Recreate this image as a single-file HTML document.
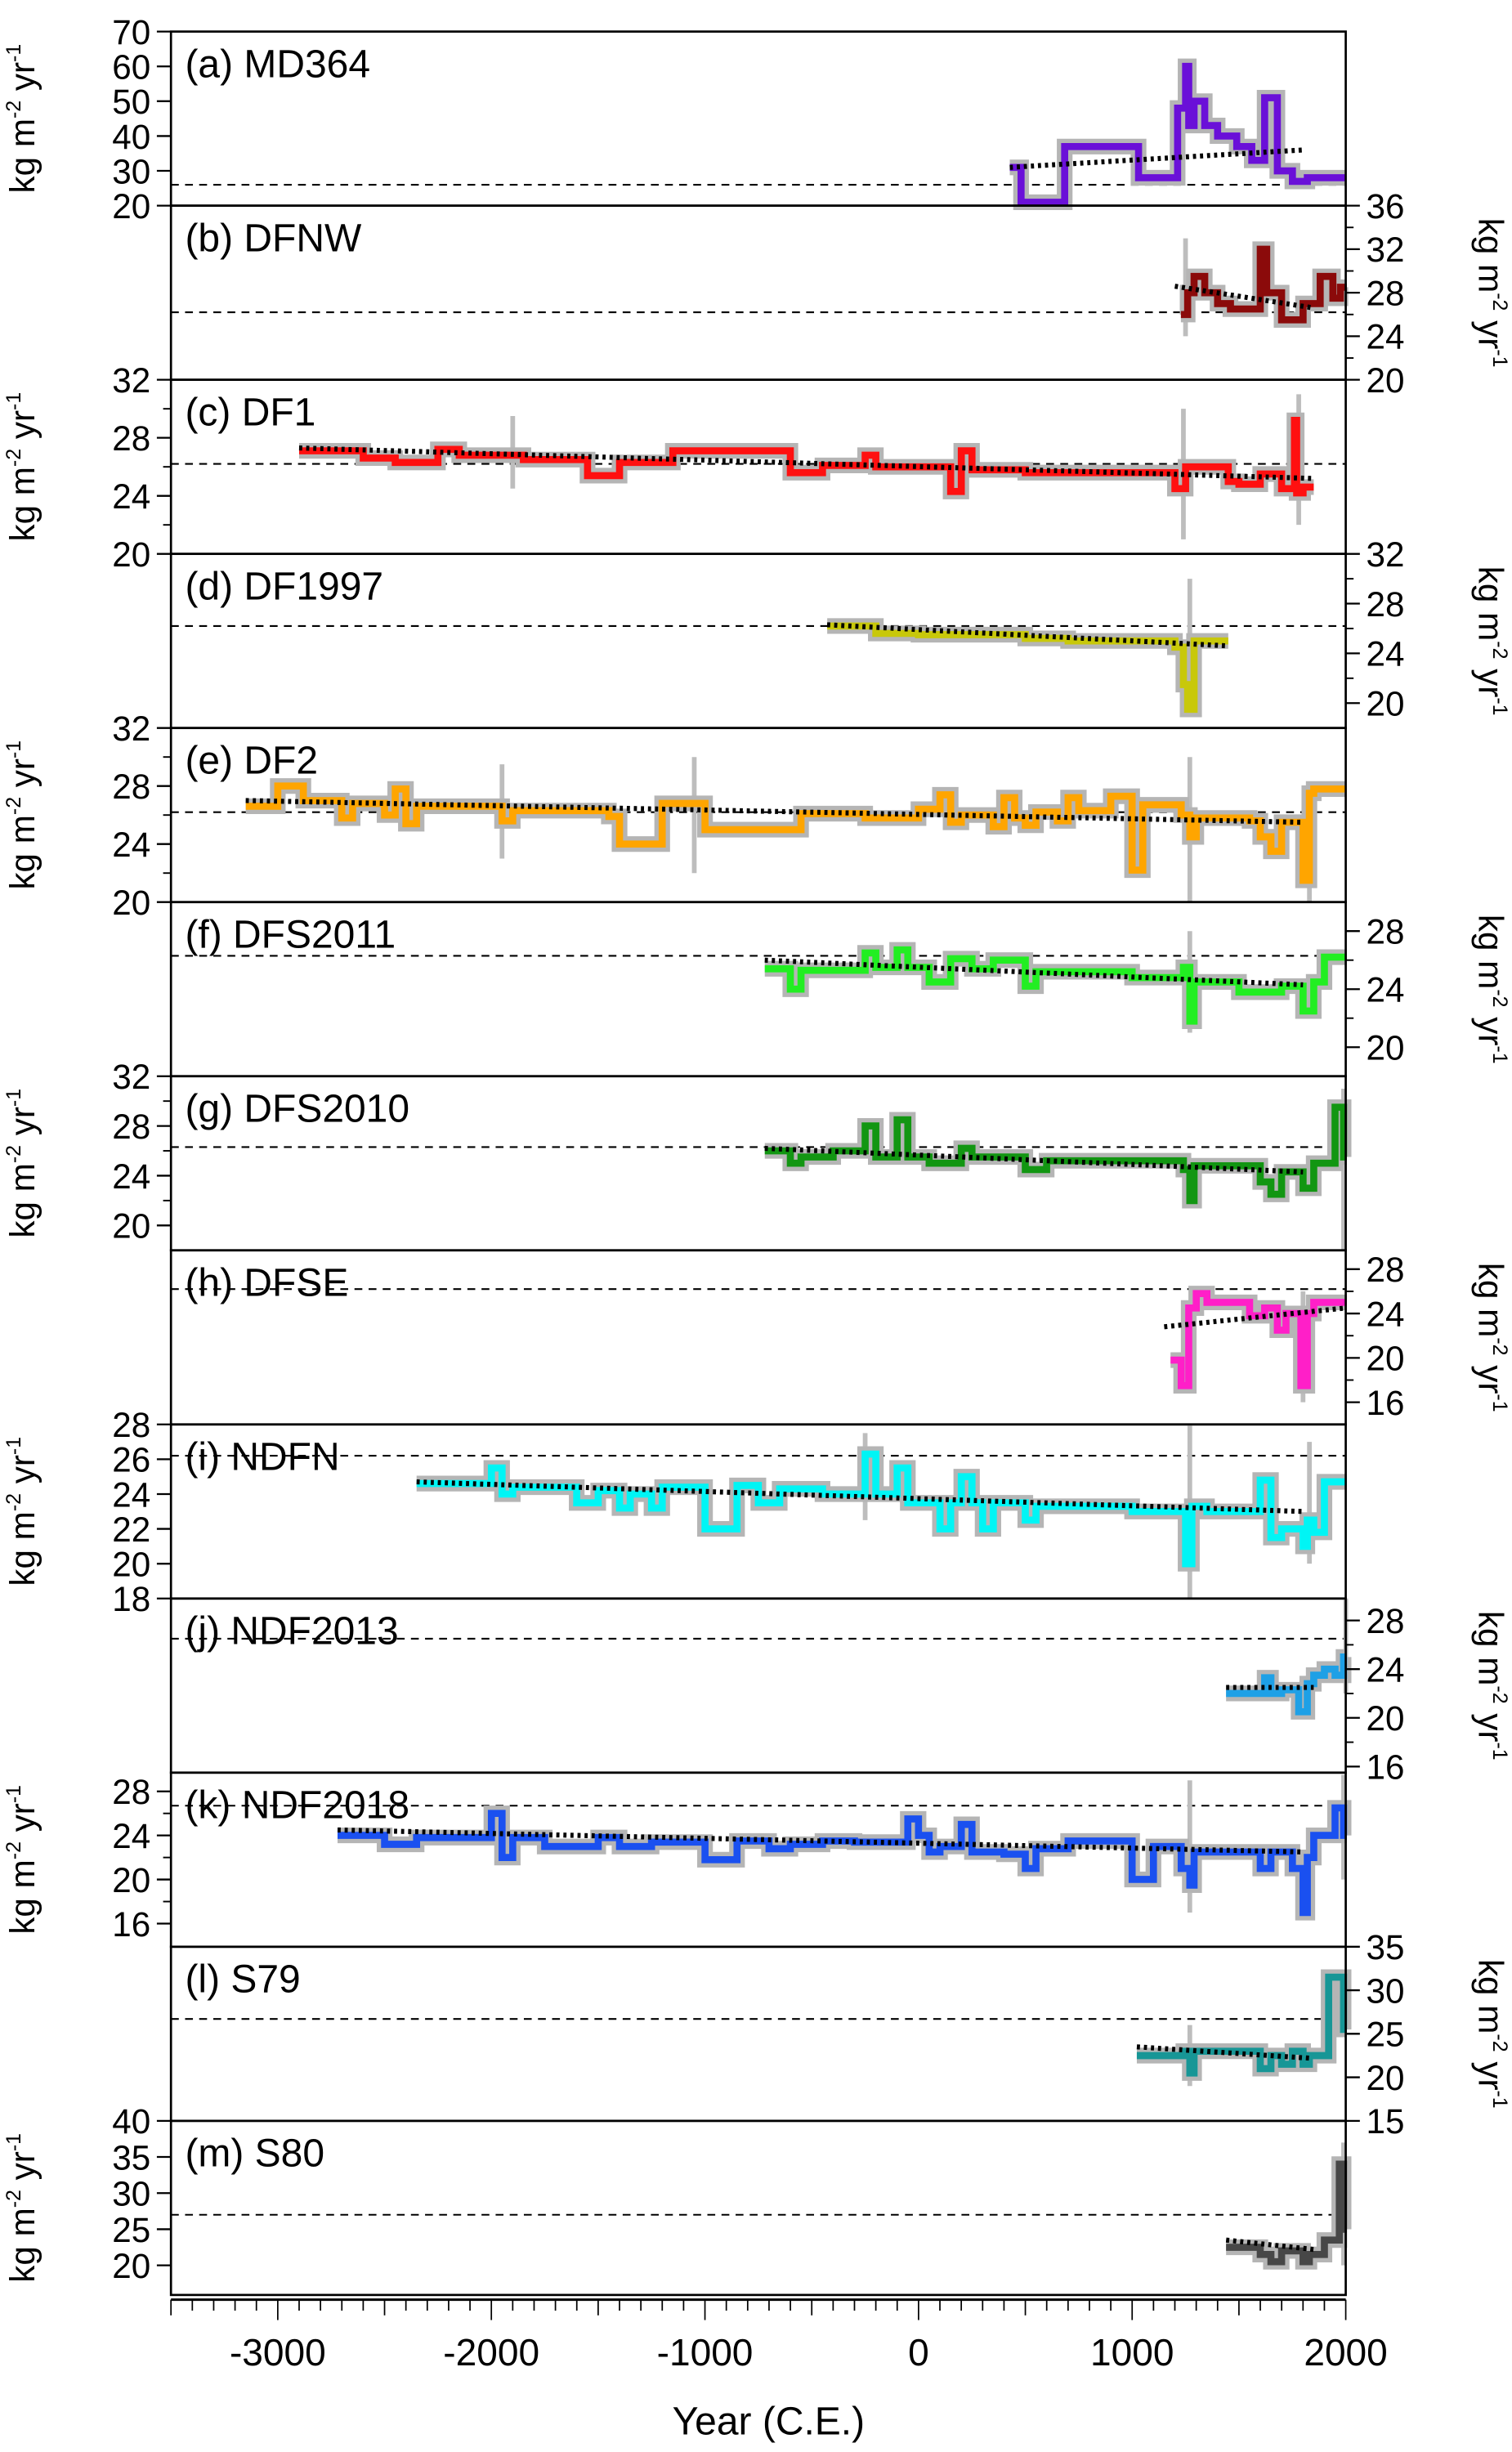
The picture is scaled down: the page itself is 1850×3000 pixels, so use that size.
<!DOCTYPE html>
<html><head><meta charset="utf-8">
<style>
html,body{margin:0;padding:0;background:#fff;}
svg{display:block;font-family:"Liberation Sans",Arial,sans-serif;}
</style></head>
<body>
<svg id="chart" width="1850" height="3000" viewBox="0 0 964 1563" xmlns="http://www.w3.org/2000/svg">
<rect width="964" height="1563" fill="#fff"/>
<g id="panels"></g>
<g id="xaxis"></g>
<text x="490" y="1552" font-size="25" text-anchor="middle">Year (C.E.)</text>
</svg>
<script>
// ---- data (year edges / step values) ----
const aYears=[427,480,684,1030,1213,1250,1265,1290,1340,1400,1490,1560,1620,1680,1750,1820,2000];
const aVals=[31,21,37,28,48,60,43,50,43,40,37,33,51,30,27,28];
const bYears=[1228,1260,1290,1340,1400,1460,1600,1630,1700,1800,1880,1940,1975,2005];
const bVals=[26,28,29.5,28,27,26.5,32,28,25.5,27,29.5,27.5,28.5];
const cYears=[-2900,-2600,-2450,-2250,-2150,-1850,-1550,-1400,-1150,-600,-450,-250,-200,150,200,250,500,1200,1250,1450,1500,1600,1700,1760,1770,1800,1850];
const cVals=[27.1,26.6,26.3,27.2,26.8,26.5,25.4,26.3,27.1,25.6,26.1,26.8,26.0,24.3,27.1,25.8,25.6,24.5,26.0,25.0,24.8,25.5,24.5,29.2,24.2,24.6];
const dYears=[-428,-200,0,500,700,1200,1240,1260,1290,1450];
const dVals=[26.2,25.6,25.5,25.2,25.0,24.5,21.5,19.5,25.0];
const eYears=[-3150,-3000,-2880,-2700,-2650,-2500,-2450,-2400,-2350,-1950,-1900,-1450,-1400,-1200,-1000,-550,-250,0,100,150,200,350,400,450,500,550,650,700,750,900,1000,1050,1230,1270,1300,1550,1600,1650,1700,1750,1800,1830,1850,2000];
const eVals=[26.6,28.0,27.0,25.8,26.8,26.0,27.8,25.4,26.6,25.6,26.3,25.9,24.0,26.8,25.0,26.1,25.8,26.4,27.4,25.5,26.0,25.2,27.2,25.8,25.3,26.2,25.6,27.2,26.3,27.3,22.2,26.7,26.0,24.5,25.8,25.6,24.5,23.5,25.5,25.5,21.5,27.5,27.8];
const fYears=[-720,-600,-550,-250,-200,-100,-50,50,150,250,350,500,550,1000,1240,1270,1290,1500,1700,1800,1850,1900,2005];
const fVals=[25.4,24.0,25.3,26.5,25.5,26.7,25.5,24.5,26.1,25.4,26.0,24.2,25.2,24.8,25.5,21.8,24.5,23.8,24.2,22.5,24.5,26.2];
const gYears=[-720,-600,-550,-400,-250,-200,-100,-50,50,200,250,500,600,1000,1240,1270,1290,1600,1650,1700,1800,1850,1950,1990,2005];
const gVals=[26.0,25.0,25.5,26.0,28.0,25.5,28.5,25.5,25.0,26.2,25.5,24.5,25.2,25.2,24.5,22.0,24.8,23.5,22.5,24.3,23.0,25.0,29.5,25.5];
const hYears=[1180,1230,1265,1300,1350,1550,1620,1680,1720,1790,1820,1850,2005];
const hVals=[19.8,17.5,24.5,25.8,25.0,23.8,24.5,22.5,24.0,17.5,24.0,25.0];
const iYears=[-2350,-2000,-1950,-1900,-1600,-1500,-1400,-1350,-1250,-1200,-1000,-850,-750,-650,-450,-250,-200,-100,-50,100,150,200,250,300,350,500,550,1000,1250,1280,1350,1600,1650,1700,1800,1820,1850,1900,2005];
const iVals=[24.6,25.5,24.0,24.4,23.5,24.2,23.2,24.0,23.2,24.4,22.0,24.5,23.5,24.3,24.0,26.3,24.0,25.5,23.5,22.0,23.5,25.0,23.5,22.0,23.5,22.5,23.3,23.0,20.0,23.3,23.0,24.8,21.5,22.0,21.0,22.5,21.8,24.7];
const jYears=[1440,1620,1650,1700,1780,1820,1850,1900,1950,1990,2005];
const jVals=[22.0,23.3,22.0,22.3,20.5,22.8,23.5,24.0,23.5,25.0];
const kYears=[-2720,-2500,-2350,-2000,-1950,-1900,-1750,-1500,-1400,-1250,-1000,-850,-700,-600,-450,-300,-50,0,50,100,200,250,400,500,550,700,1000,1100,1230,1270,1290,1600,1650,1750,1800,1820,1850,1950,1990,2005];
const kVals=[24.0,23.2,23.8,26.0,22.0,23.8,23.0,23.8,23.0,23.4,21.8,23.5,22.8,23.2,23.5,23.4,25.5,24.0,22.5,23.0,25.0,22.5,22.3,21.0,22.8,23.5,20.0,23.0,21.0,19.5,22.5,21.0,22.5,21.0,17.0,22.0,24.0,26.5,24.0];
const lYears=[1022,1240,1270,1290,1600,1650,1700,1750,1800,1830,1920,1990,2005];
const lVals=[22.5,23.0,20.5,23.0,21.0,22.5,21.5,23.0,21.5,22.5,31.5,25.5];
const mYears=[1440,1600,1650,1700,1800,1830,1900,1970,1990,2005];
const mVals=[22.5,21.5,20.5,22.0,20.5,21.5,23.5,34.0,25.0];
// trend lines [year0, value0, year1, value1]
const aTrend=[427,31,1800,36];
const bTrend=[1200,28.6,1850,26.6];
const cTrend=[-2900,27.3,1850,25.2];
const dTrend=[-428,26.3,1450,24.6];
const eTrend=[-3150,27.0,1800,25.5];
const fTrend=[-720,26.0,1800,24.3];
const gTrend=[-720,26.2,1800,24.3];
const hTrend=[1150,22.8,2000,24.5];
const iTrend=[-2350,24.7,1800,23.0];
const jTrend=[1440,22.5,1850,22.5];
const kTrend=[-2720,24.5,1800,22.5];
const lTrend=[1022,23.5,1830,22.2];
const mTrend=[1440,23.5,1850,22.2];
// grey uncertainty spikes [year, low, high]
const cSpikes=[[-1900,24.5,29.5],[1240,21,30],[1780,22,31]];
const eSpikes=[[-1950,23,29.5],[-1050,22,30],[1270,20,30],[1830,20,26]];
const iSpikes=[[-250,22.5,27.5],[1270,18,28],[1830,20,27]];
const kSpikes=[[1270,17,29],[1990,20,29.5]];
const xTicks=[-3000,-2000,-1000,0,1000,2000];

// ---- layout ----
const X0=109,X1=858,YEAR0=-3500,YEAR1=2000;
const xs=y=>X0+(y-YEAR0)/(YEAR1-YEAR0)*(X1-X0);
const panels=[
 {id:'a',label:'(a) MD364',color:'#6a10d8',side:'L',min:20,max:70,ticks:[20,30,40,50,60,70],minor:[],years:aYears,vals:aVals,trend:aTrend,dash:26,spikes:[]},
 {id:'b',label:'(b) DFNW',color:'#8b0a0a',side:'R',min:20,max:36,ticks:[20,24,28,32,36],minor:[22,26,30,34],years:bYears,vals:bVals,trend:bTrend,dash:26.2,spikes:[[1250,24,33]]},
 {id:'c',label:'(c) DF1',color:'#ff1010',side:'L',min:20,max:32,ticks:[20,24,28,32],minor:[22,26,30],years:cYears,vals:cVals,trend:cTrend,dash:26.2,spikes:cSpikes},
 {id:'d',label:'(d) DF1997',color:'#c8c80a',side:'R',min:18,max:32,ticks:[20,24,28,32],minor:[22,26,30],years:dYears,vals:dVals,trend:dTrend,dash:26.2,spikes:[[1270,19,30]]},
 {id:'e',label:'(e) DF2',color:'#ffa500',side:'L',min:20,max:32,ticks:[20,24,28,32],minor:[22,26,30],years:eYears,vals:eVals,trend:eTrend,dash:26.2,spikes:eSpikes},
 {id:'f',label:'(f) DFS2011',color:'#22ee22',side:'R',min:18,max:30,ticks:[20,24,28],minor:[22,26],years:fYears,vals:fVals,trend:fTrend,dash:26.3,spikes:[[1270,21,28]]},
 {id:'g',label:'(g) DFS2010',color:'#129612',side:'L',min:18,max:32,ticks:[20,24,28,32],minor:[22,26,30],years:gYears,vals:gVals,trend:gTrend,dash:26.3,spikes:[[1990,18,31]]},
 {id:'h',label:'(h) DFSE',color:'#ff1fc8',side:'R',min:14,max:29.7,ticks:[16,20,24,28],minor:[18,22,26],years:hYears,vals:hVals,trend:hTrend,dash:26.2,spikes:[[1800,16,26]]},
 {id:'i',label:'(i) NDFN',color:'#00f5f5',side:'L',min:18,max:28,ticks:[18,20,22,24,26,28],minor:[],years:iYears,vals:iVals,trend:iTrend,dash:26.2,spikes:iSpikes},
 {id:'j',label:'(j) NDF2013',color:'#1ea0e6',side:'R',min:15.5,max:29.8,ticks:[16,20,24,28],minor:[18,22,26],years:jYears,vals:jVals,trend:jTrend,dash:26.5,spikes:[[2000,22,29.8]]},
 {id:'k',label:'(k) NDF2018',color:'#1a50f0',side:'L',min:13.9,max:29.7,ticks:[16,20,24,28],minor:[18,22,26],years:kYears,vals:kVals,trend:kTrend,dash:26.7,spikes:kSpikes},
 {id:'l',label:'(l)  S79',color:'#179696',side:'R',min:15,max:35,ticks:[15,20,25,30,35],minor:[],years:lYears,vals:lVals,trend:lTrend,dash:26.7,spikes:[[1270,19,26]]},
 {id:'m',label:'(m) S80',color:'#474747',side:'L',min:15.9,max:40,ticks:[20,25,30,35,40],minor:[],years:mYears,vals:mVals,trend:mTrend,dash:27.0,spikes:[[1990,20,37]]}
];
const NS='http://www.w3.org/2000/svg';
const root=document.getElementById('panels');
function mk(tag,attrs,parent){const e=document.createElementNS(NS,tag);for(const k in attrs)e.setAttribute(k,attrs[k]);(parent||root).appendChild(e);return e;}
const TOP=20,PH=111;
panels.forEach((p,idx)=>{
  const top=TOP+idx*PH, bot=top+PH;
  const ys=v=>bot-(v-p.min)/(p.max-p.min)*PH;
  const g=mk('g',{});
  
  
  const clipId='clip'+p.id;
  const cp=mk('clipPath',{id:clipId},g);
  mk('rect',{x:X0,y:top-4,width:X1-X0+4,height:PH+8},cp);
  const dl=mk('line',{x1:X0,x2:X1,y1:ys(p.dash),y2:ys(p.dash),stroke:'#000','stroke-width':1.1,'stroke-dasharray':'5 4'},g);
  
  
  let d='';
  for(let i=0;i<p.vals.length;i++){
    const x0=xs(p.years[i]),x1=xs(p.years[i+1]),y=ys(p.vals[i]);
    d+=(i===0?'M':'L')+x0.toFixed(1)+','+y.toFixed(1)+'H'+x1.toFixed(1);
  }
  const sg=mk('g',{'clip-path':'url(#'+clipId+')'},g);
  p.spikes.forEach(s=>{
    const sp=mk('line',{x1:xs(s[0]),x2:xs(s[0]),y1:ys(s[1]),y2:ys(s[2]),stroke:'#bdbdbd','stroke-width':3},sg);
    
    
  });
  const band=mk('path',{d:d,fill:'none',stroke:'#b5b5b5','stroke-width':10,'stroke-linejoin':'miter'},sg);
  
  
  const line=mk('path',{d:d,fill:'none',stroke:p.color,'stroke-width':4.5},sg);
  
  
  const t=p.trend;
  const tr=mk('line',{x1:xs(t[0]),y1:ys(t[1]),x2:xs(t[2]),y2:ys(t[3]),stroke:'#000','stroke-width':3.2,'stroke-dasharray':'2 2.5'},sg);
  
  
  const fr=mk('rect',{x:X0,y:top,width:X1-X0,height:PH,fill:'none',stroke:'#000','stroke-width':1.4},g);
  
  
  const lb=mk('text',{x:118,y:top+29,'font-size':25},g);
  lb.textContent=p.label;
  
  
  const ax=mk('g',{},g);
  
  
  const L=p.side==='L';
  const ex=L?X0:X1, dir=L?-1:1;
  p.ticks.forEach(v=>{
    const y=ys(v);
    mk('line',{x1:ex,x2:ex+dir*9,y1:y,y2:y,stroke:'#000','stroke-width':1.2},ax);
    const tx=mk('text',{x:L?ex-13:ex+13,y:y+8,'font-size':22,'text-anchor':L?'end':'start'},ax);
    tx.textContent=v;
    
    
  });
  p.minor.forEach(v=>{const y=ys(v);mk('line',{x1:ex,x2:ex+dir*5,y1:y,y2:y,stroke:'#000','stroke-width':1},ax);});
  const cy=top+PH/2;
  const tx=L?22:943;
  const tt=mk('text',{x:tx,y:cy,'font-size':22,'text-anchor':'middle',transform:'rotate('+(L?-90:90)+' '+tx+' '+cy+')'},ax);
  tt.innerHTML='kg m<tspan font-size="13" dy="-9">-2</tspan><tspan dy="9"> yr</tspan><tspan font-size="13" dy="-9">-1</tspan>';
  
  
});
const xa=document.getElementById('xaxis');
const AY=TOP+13*PH+3;
mk('line',{x1:X0,x2:X1,y1:AY,y2:AY,stroke:'#000','stroke-width':1.6},xa);
for(let yr=YEAR0;yr<=YEAR1;yr+=100){
  const len=(yr%1000===0)?13:(yr%500===0?10:7);
  mk('line',{x1:xs(yr),x2:xs(yr),y1:AY,y2:AY+len,stroke:'#000','stroke-width':0.9},xa);
}
xTicks.forEach(v=>{
  const t=mk('text',{x:xs(v),y:AY+42,'font-size':24,'text-anchor':'middle'},xa);
  t.textContent=v;
  
  
});
</script>
</body></html>
